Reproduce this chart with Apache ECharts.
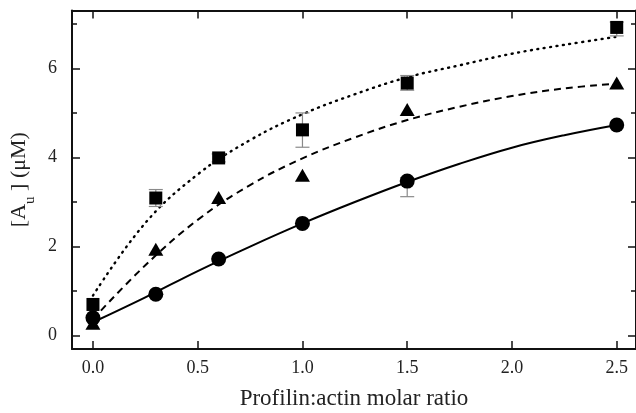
<!DOCTYPE html>
<html>
<head>
<meta charset="utf-8">
<script src="https://cdn.jsdelivr.net/npm/echarts@6/dist/echarts.min.js"></script>
<style>
html,body{margin:0;padding:0;background:#fff;}
#c{width:636px;height:413px;}
</style>
</head>
<body>
<div id="c"></div>
<script>
// ---- data ----
var ratios = [0, 0.3, 0.6, 1.0, 1.5, 2.5];
var squareVals   = [0.70, 3.09, 3.99, 4.62, 5.67, 6.92];
var triangleVals = [0.28, 1.94, 3.10, 3.60, 5.08, 5.67];
var circleVals   = [0.40, 0.93, 1.72, 2.52, 3.47, 4.73];

// error bars: [x, low, high]
var squareErr = [[0.3, 2.90, 3.28], [0.6, 3.90, 4.08], [1.0, 4.23, 5.00], [1.5, 5.51, 5.84], [2.5, 6.73, 7.04]];
var circleErr = [[1.5, 3.12, 3.55]];

// fitted curves
var curveX = [0, 0.25, 0.5, 0.75, 1.0, 1.25, 1.5, 1.75, 2.0, 2.25, 2.5];
var dottedCurve = [0.90, 2.53, 3.62, 4.39, 4.97, 5.42, 5.80, 6.07, 6.33, 6.53, 6.71];
var dashedCurve = [0.37, 1.58, 2.60, 3.38, 3.98, 4.45, 4.84, 5.14, 5.38, 5.55, 5.66];
var solidCurve  = [0.30, 0.86, 1.45, 2.00, 2.52, 3.00, 3.45, 3.86, 4.22, 4.50, 4.73];

var xTicks = [0, 0.5, 1.0, 1.5, 2.0, 2.5];
var yMajor = [0, 2, 4, 6];
var yMinor = [1, 3, 5, 7];

function pairs(xs, ys) { return xs.map(function (x, i) { return [x, ys[i]]; }); }

var FONT = '"Liberation Serif", "DejaVu Serif", serif';
var INK = '#111';

var chart = echarts.init(document.getElementById('c'), null, {renderer: 'canvas'});

function xAxisDef(pos, labels) {
  return {
    type: 'value', position: pos, min: -0.1, max: 2.592,
    axisLine: {show: true, onZero: false, lineStyle: {color: INK, width: 2}},
    axisTick: {show: true, inside: true, length: 8, customValues: xTicks, lineStyle: {color: INK, width: 1.5}},
    axisLabel: labels ? {show: true, customValues: xTicks, margin: 10, fontFamily: FONT, fontSize: 18, color: '#222',
      formatter: function (v) { return v.toFixed(1); }} : {show: false},
    splitLine: {show: false},
    name: labels ? 'Profilin:actin molar ratio' : '',
    nameLocation: 'middle', nameGap: 38,
    nameTextStyle: {fontFamily: FONT, fontSize: 23, color: '#222'}
  };
}
function yAxisDef(pos, ticks, len, labels, showLine, withName) {
  return {
    type: 'value', position: pos, min: -0.3, max: 7.3,
    axisLine: {show: showLine, onZero: false, lineStyle: {color: INK, width: 2}},
    axisTick: {show: true, inside: true, length: len, customValues: ticks, lineStyle: {color: INK, width: 1.5}},
    axisLabel: labels ? {show: true, customValues: yMajor, margin: 15, fontFamily: FONT, fontSize: 18, color: '#222'} : {show: false},
    splitLine: {show: false},
    name: withName ? '{sp| }{a|[A}{s|u}{a| ] (μM)}' : '',
    nameLocation: 'middle', nameGap: 31, nameRotate: 90,
    nameTextStyle: withName ? {
      fontFamily: FONT, color: '#222',
      rich: {
        sp: {fontSize: 1, lineHeight: 29, verticalAlign: 'top'},
        a: {fontFamily: FONT, fontSize: 22, color: '#222', lineHeight: 22, verticalAlign: 'top'},
        s: {fontFamily: FONT, fontSize: 15, color: '#222', lineHeight: 15, verticalAlign: 'bottom'}
      }
    } : {}
  };
}

function errSeries(data) {
  return {
    type: 'custom', xAxisIndex: 0, yAxisIndex: 0, z: 2,
    data: data,
    renderItem: function (params, api) {
      var x = api.value(0), lo = api.value(1), hi = api.value(2);
      var pLo = api.coord([x, lo]), pHi = api.coord([x, hi]);
      var w = 7;
      var st = {stroke: '#8a8a8a', lineWidth: 1.2};
      return {type: 'group', children: [
        {type: 'line', shape: {x1: pLo[0], y1: pLo[1], x2: pHi[0], y2: pHi[1]}, style: st},
        {type: 'line', shape: {x1: pLo[0] - w, y1: pLo[1], x2: pLo[0] + w, y2: pLo[1]}, style: st},
        {type: 'line', shape: {x1: pHi[0] - w, y1: pHi[1], x2: pHi[0] + w, y2: pHi[1]}, style: st}
      ]};
    },
    silent: true
  };
}

var option = {
  animation: false,
  backgroundColor: '#fff',
  grid: {left: 72, right: 0, top: 10.5, bottom: 64, containLabel: false, outerBoundsMode: 'none'},
  xAxis: [xAxisDef('bottom', true), xAxisDef('top', false)],
  yAxis: [
    yAxisDef('left', yMajor, 8, true, true, true),
    yAxisDef('left', yMinor, 5, false, false, false),
    yAxisDef('right', yMajor, 8, false, true, false),
    yAxisDef('right', yMinor, 5, false, false, false)
  ],
  series: [
    {type: 'line', data: pairs(curveX, dottedCurve), smooth: 0.4, symbol: 'none', z: 1,
      lineStyle: {color: '#000', width: 2.4, type: [1, 5.5], cap: 'round'}},
    {type: 'line', data: pairs(curveX, dashedCurve), smooth: 0.4, symbol: 'none', z: 1,
      lineStyle: {color: '#000', width: 2, type: [7, 5]}},
    {type: 'line', data: pairs(curveX, solidCurve), smooth: 0.4, symbol: 'none', z: 1,
      lineStyle: {color: '#000', width: 2}},
    errSeries(squareErr),
    errSeries(circleErr),
    {type: 'scatter', data: pairs(ratios, squareVals), symbol: 'rect', symbolSize: 13, z: 3,
      itemStyle: {color: '#000', opacity: 1}},
    {type: 'scatter', data: pairs(ratios, triangleVals), symbol: 'triangle', symbolSize: [15, 13], z: 3,
      itemStyle: {color: '#000', opacity: 1}},
    {type: 'scatter', data: pairs(ratios, circleVals), symbol: 'circle', symbolSize: 15, z: 4,
      itemStyle: {color: '#000', opacity: 1}}
  ]
};
chart.setOption(option);
</script>
</body>
</html>
